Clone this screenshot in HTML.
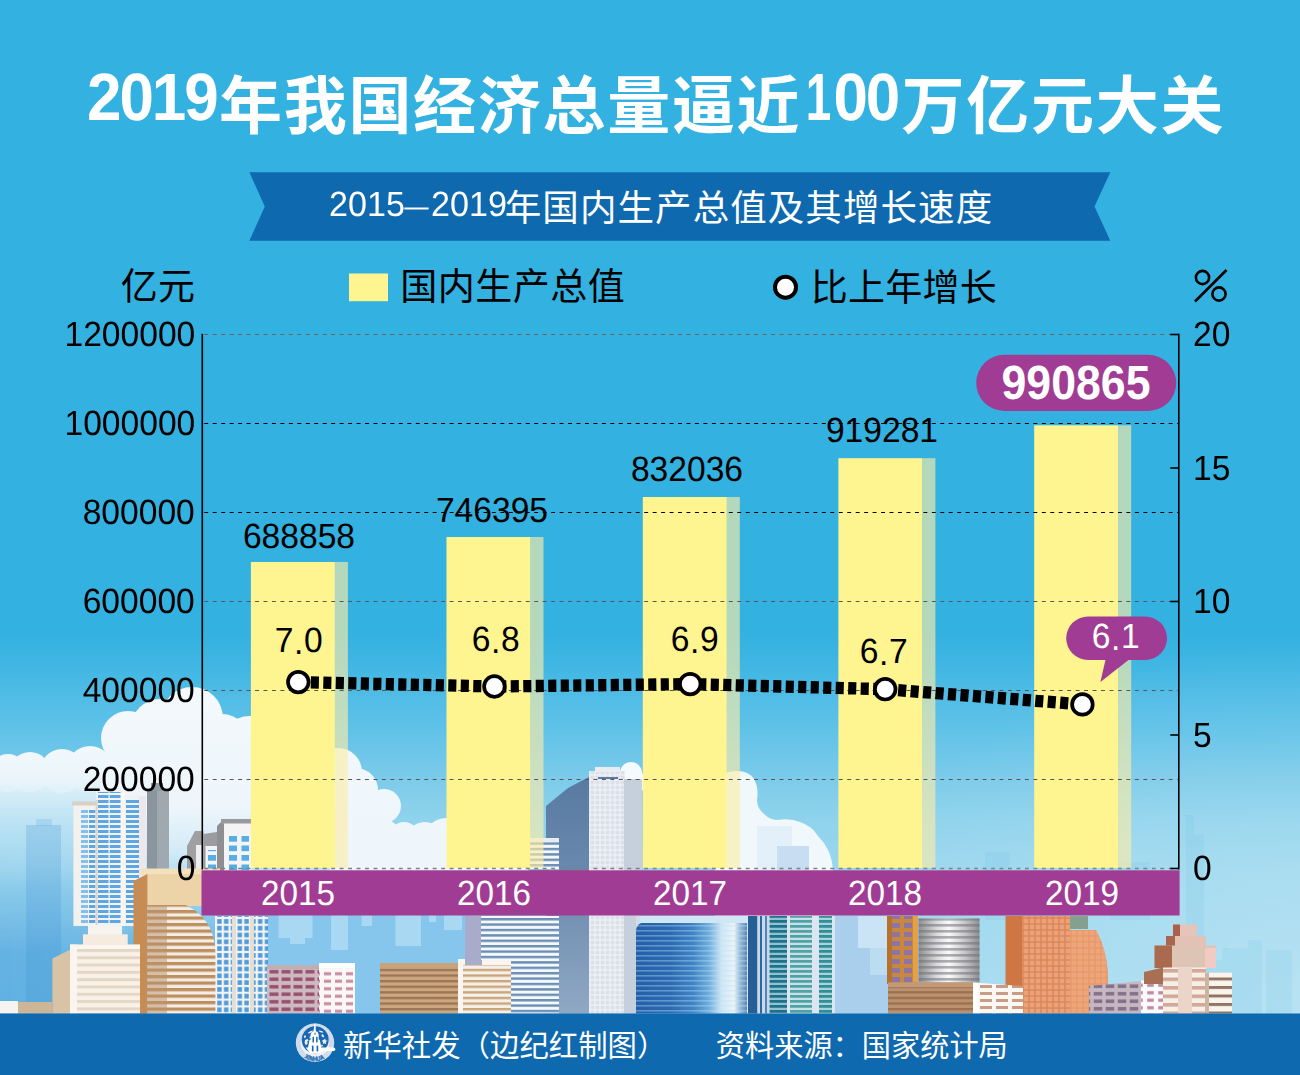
<!DOCTYPE html>
<html lang="zh"><head><meta charset="utf-8"><title>2019年我国经济总量逼近100万亿元大关</title>
<style>
html,body{margin:0;padding:0;background:#33B1E0;}
#page{position:relative;width:1300px;height:1075px;overflow:hidden;background:#33B1E0;font-family:"Liberation Sans",sans-serif;}
#page svg{position:absolute;left:0;top:0;}
.t{position:absolute;line-height:1;white-space:nowrap;font-family:"Liberation Sans",sans-serif;text-rendering:geometricPrecision;font-kerning:none;}
.d{position:relative;top:2px;}
.one{display:inline-block;transform:translateX(-4px) scaleX(0.74);transform-origin:100% 50%;}
</style></head>
<body>
<div id="page">
<svg width="1300" height="1075" viewBox="0 0 1300 1075">
<defs>
<linearGradient id="sky" x1="0" y1="0" x2="0" y2="1"><stop offset="0" stop-color="#33B1E0"/><stop offset="0.588" stop-color="#33B1E0"/><stop offset="0.6186" stop-color="#40B6E3"/><stop offset="0.651" stop-color="#52BDE6"/><stop offset="0.684" stop-color="#63C3E8"/><stop offset="0.7256" stop-color="#7DCBEA"/><stop offset="0.763" stop-color="#8FD3EC"/><stop offset="0.8074" stop-color="#9BD7EE"/><stop offset="0.942" stop-color="#A3DAEF"/><stop offset="1" stop-color="#A3DAEF"/></linearGradient>
<radialGradient id="rightpale" gradientUnits="userSpaceOnUse" cx="1330" cy="1010" r="520" gradientTransform="translate(1330 1010) scale(1 0.72) translate(-1330 -1010)"><stop offset="0" stop-color="#fff" stop-opacity="0.24"/><stop offset="0.5" stop-color="#fff" stop-opacity="0.11"/><stop offset="1" stop-color="#fff" stop-opacity="0"/></radialGradient>
<linearGradient id="leftblue" x1="0" y1="0" x2="1" y2="0"><stop offset="0" stop-color="#459FDC" stop-opacity="0.72"/><stop offset="0.45" stop-color="#4BA6DF" stop-opacity="0.6"/><stop offset="1" stop-color="#4BA6DF" stop-opacity="0"/></linearGradient>
<linearGradient id="mlg" x1="0" y1="0" x2="0" y2="1"><stop offset="0" stop-color="#000"/><stop offset="0.45" stop-color="#000"/><stop offset="0.8" stop-color="#fff"/><stop offset="1" stop-color="#fff"/></linearGradient>
<mask id="mleft" maskUnits="userSpaceOnUse" x="0" y="700" width="700" height="314"><rect x="0" y="700" width="700" height="314" fill="url(#mlg)"/></mask>
<linearGradient id="cloudfadeA" gradientUnits="userSpaceOnUse" x1="0" y1="740" x2="0" y2="1013"><stop offset="0" stop-color="#F3F9FC"/><stop offset="0.12" stop-color="#ECF6FB"/><stop offset="0.22" stop-color="#DDEFF9" stop-opacity="0.85"/><stop offset="0.36" stop-color="#CFE8F7" stop-opacity="0.5"/><stop offset="0.55" stop-color="#CFE8F7" stop-opacity="0.12"/><stop offset="1" stop-color="#CFE8F7" stop-opacity="0"/></linearGradient>
<linearGradient id="cloudfadeB" gradientUnits="userSpaceOnUse" x1="0" y1="690" x2="0" y2="1013"><stop offset="0" stop-color="#F3F9FC"/><stop offset="0.36" stop-color="#EEF6FB"/><stop offset="0.5" stop-color="#E3F1FA" stop-opacity="0.8"/><stop offset="0.62" stop-color="#CFE8F7" stop-opacity="0.35"/><stop offset="0.8" stop-color="#CFE8F7" stop-opacity="0"/><stop offset="1" stop-color="#CFE8F7" stop-opacity="0"/></linearGradient>
<linearGradient id="cloudfadeC" gradientUnits="userSpaceOnUse" x1="0" y1="690" x2="0" y2="1013"><stop offset="0" stop-color="#F3F9FC"/><stop offset="0.55" stop-color="#EEF6FB"/><stop offset="0.62" stop-color="#E3F1FA" stop-opacity="0.8"/><stop offset="0.7" stop-color="#CFE8F7" stop-opacity="0"/><stop offset="1" stop-color="#CFE8F7" stop-opacity="0"/></linearGradient>
<linearGradient id="gdark" x1="0" y1="0" x2="0" y2="1"><stop offset="0" stop-color="#587AA2"/><stop offset="0.45" stop-color="#6C8AAE"/><stop offset="1" stop-color="#8FA8C4"/></linearGradient>
<linearGradient id="gglass" x1="0" y1="0" x2="1" y2="0"><stop offset="0" stop-color="#2560AA"/><stop offset="0.3" stop-color="#2A6AB2"/><stop offset="0.5" stop-color="#3F84C6"/><stop offset="0.64" stop-color="#6FAEDD"/><stop offset="0.75" stop-color="#CFE6F5"/><stop offset="0.86" stop-color="#EAF4FA"/><stop offset="0.91" stop-color="#9DBEDC"/><stop offset="1" stop-color="#3F6EA6"/></linearGradient>
<pattern id="hl" width="8" height="5" patternUnits="userSpaceOnUse"><rect y="0" width="8" height="1.6" fill="#BFE0F4" fill-opacity="0.38"/></pattern>
<linearGradient id="silver" x1="0" y1="0" x2="1" y2="0"><stop offset="0" stop-color="#8D8D92"/><stop offset="0.3" stop-color="#DADADC"/><stop offset="0.5" stop-color="#FAFAFA"/><stop offset="0.75" stop-color="#C9C9CC"/><stop offset="1" stop-color="#8E8E93"/></linearGradient>
<pattern id="hm" width="8" height="6" patternUnits="userSpaceOnUse"><rect y="0" width="8" height="2.6" fill="#6F6F76" fill-opacity="0.55"/></pattern>
<pattern id="h0" width="8" height="5.00" patternUnits="userSpaceOnUse"><rect width="8" height="5.00" fill="#F1F4F7"/><rect width="8" height="3.00" fill="#5FA5E0"/></pattern>
<pattern id="h1" width="8" height="5.00" patternUnits="userSpaceOnUse"><rect width="8" height="5.00" fill="#EEF3F8"/><rect width="8" height="3.00" fill="#86BEEA"/></pattern>
<pattern id="h2" width="8" height="9.50" patternUnits="userSpaceOnUse"><rect width="8" height="9.50" fill="#F4F6F8"/><rect width="8" height="5.70" fill="#58AEE4"/></pattern>
<pattern id="w3" width="6.80" height="6.80" patternUnits="userSpaceOnUse" patternTransform="translate(216.00 918.00)"><rect width="6.80" height="6.80" fill="#F3F3F1"/><rect x="1.20" y="1.10" width="4.40" height="4.60" fill="#4F9ADA"/></pattern>
<pattern id="h4" width="8" height="6.50" patternUnits="userSpaceOnUse"><rect width="8" height="6.50" fill="#F3EDE6"/><rect width="8" height="3.25" fill="#BD8F5E"/></pattern>
<pattern id="h5" width="8" height="7.30" patternUnits="userSpaceOnUse"><rect width="8" height="7.30" fill="#F8F1E8"/><rect width="8" height="2.92" fill="#E4D6C4"/></pattern>
<pattern id="w6" width="12.00" height="7.50" patternUnits="userSpaceOnUse" patternTransform="translate(268.00 968.00)"><rect width="12.00" height="7.50" fill="#CDB9C0"/><rect x="1.50" y="2.00" width="9.00" height="3.50" fill="#9A4F6E"/></pattern>
<pattern id="w7" width="11.00" height="7.50" patternUnits="userSpaceOnUse" patternTransform="translate(322.00 970.00)"><rect width="11.00" height="7.50" fill="#FBF7F7"/><rect x="2.00" y="2.25" width="7.00" height="3.00" fill="#C98AA0"/></pattern>
<pattern id="h8" width="8" height="5.60" patternUnits="userSpaceOnUse"><rect width="8" height="5.60" fill="#CDA77F"/><rect width="8" height="2.35" fill="#9C7654"/></pattern>
<pattern id="h9" width="8" height="5.60" patternUnits="userSpaceOnUse"><rect width="8" height="5.60" fill="#F6EFE6"/><rect width="8" height="2.35" fill="#C9A57C"/></pattern>
<pattern id="w10" width="5.00" height="5.00" patternUnits="userSpaceOnUse" patternTransform="translate(590.00 775.00)"><rect width="5.00" height="5.00" fill="#F2F4F7"/><rect x="0.50" y="0.50" width="4.00" height="4.00" fill="#DCE1E9"/></pattern>
<pattern id="h11" width="8" height="5.40" patternUnits="userSpaceOnUse"><rect width="8" height="5.40" fill="#F5F7FA"/><rect width="8" height="2.43" fill="#6A8FB5"/></pattern>
<pattern id="h12" width="8" height="5.00" patternUnits="userSpaceOnUse"><rect width="8" height="5.00" fill="#FFFFFF"/><rect width="8" height="0.00" fill="#FFFFFF"/></pattern>
<pattern id="h13" width="8" height="5.00" patternUnits="userSpaceOnUse"><rect width="8" height="5.00" fill="#8FC3D2"/><rect width="8" height="2.75" fill="#1F7089"/></pattern>
<pattern id="h14" width="8" height="5.00" patternUnits="userSpaceOnUse"><rect width="8" height="5.00" fill="#C9E1E6"/><rect width="8" height="2.75" fill="#4FA3A6"/></pattern>
<pattern id="h15" width="8" height="5.00" patternUnits="userSpaceOnUse"><rect width="8" height="5.00" fill="#A9D3DA"/><rect width="8" height="2.75" fill="#2F8E96"/></pattern>
<pattern id="w16" width="12.00" height="9.00" patternUnits="userSpaceOnUse" patternTransform="translate(890.00 921.00)"><rect width="12.00" height="9.00" fill="#C8873F"/><rect x="2.00" y="2.00" width="8.00" height="5.00" fill="#8E74A6"/></pattern>
<pattern id="h17" width="8" height="5.60" patternUnits="userSpaceOnUse"><rect width="8" height="5.60" fill="#BC916D"/><rect width="8" height="2.24" fill="#9A7050"/></pattern>
<pattern id="w18" width="6.00" height="6.00" patternUnits="userSpaceOnUse" patternTransform="translate(1023.00 918.00)"><rect width="6.00" height="6.00" fill="#DC8556"/><rect x="0.70" y="0.70" width="4.60" height="4.60" fill="#E9A279"/></pattern>
<pattern id="w19" width="16.00" height="7.00" patternUnits="userSpaceOnUse" patternTransform="translate(978.00 990.00)"><rect width="16.00" height="7.00" fill="#FBF8F4"/><rect x="2.00" y="2.00" width="12.00" height="3.00" fill="#C99C86"/></pattern>
<pattern id="w20" width="12.00" height="7.50" patternUnits="userSpaceOnUse" patternTransform="translate(1092.00 990.00)"><rect width="12.00" height="7.50" fill="#C6B8C3"/><rect x="1.75" y="1.95" width="8.50" height="3.60" fill="#85718A"/></pattern>
<pattern id="w21" width="11.00" height="7.50" patternUnits="userSpaceOnUse" patternTransform="translate(1145.00 989.00)"><rect width="11.00" height="7.50" fill="#FBF9F9"/><rect x="2.25" y="2.15" width="6.50" height="3.20" fill="#B98AA0"/></pattern>
<pattern id="h22" width="8" height="8.50" patternUnits="userSpaceOnUse"><rect width="8" height="8.50" fill="#F7EFE6"/><rect width="8" height="3.57" fill="#D3A898"/></pattern>
<pattern id="h23" width="8" height="8.50" patternUnits="userSpaceOnUse"><rect width="8" height="8.50" fill="#FAF4EC"/><rect width="8" height="2.97" fill="#8E7566"/></pattern>
</defs>
<rect x="0.0" y="0.0" width="1300.0" height="1075.0" fill="url(#sky)"/>
<rect x="0.0" y="600.0" width="1300.0" height="413.5" fill="url(#rightpale)"/>
<rect x="0.0" y="700.0" width="700.0" height="313.5" fill="url(#leftblue)" mask="url(#mleft)"/>
<g fill="url(#cloudfadeA)"><circle cx="8" cy="773" r="19"/><circle cx="30" cy="772" r="20"/><circle cx="62" cy="771" r="22"/><circle cx="90" cy="769" r="23"/><path d="M0,772 L100,762 L125,765 L125,1013 L0,1013 Z"/></g>
<g fill="url(#cloudfadeB)"><circle cx="128" cy="738" r="27"/><circle cx="160" cy="728" r="29"/><circle cx="192" cy="718" r="31"/><circle cx="222" cy="742" r="28"/><circle cx="250" cy="748" r="32"/><path d="M101,760 L130,735 L200,715 L262,742 L282,760 L340,760 L340,1013 L101,1013 Z"/></g>
<g fill="url(#cloudfadeC)"><circle cx="338" cy="772" r="24"/><circle cx="356" cy="790" r="22"/><circle cx="384" cy="806" r="17"/><circle cx="404" cy="836" r="14"/><circle cx="425" cy="842" r="20"/><circle cx="446" cy="840" r="22"/><circle cx="480" cy="842" r="22"/><circle cx="508" cy="846" r="20"/><path d="M330,770 L350,775 L372,805 L400,828 L528,830 L528,1013 L330,1013 Z"/></g>
<path d="M715,780 Q722,772 735,771 Q748,770 754,779 Q759,788 757,800 Q757,808 764,814 Q770,820 778,820 Q790,818 800,822 Q812,826 818,836 Q824,842 828,850 Q832,858 833,870 L833,916 L715,916 Z" fill="#F1F8FC"/>
<rect x="757.0" y="826.0" width="35.0" height="44.0" fill="#E3EFF9"/>
<rect x="777.0" y="846.0" width="32.0" height="24.0" fill="#C9DDF2"/>
<g fill="#F4FAFD"><circle cx="631" cy="773" r="11"/><circle cx="640" cy="782" r="9"/></g>
<rect x="26.0" y="825.0" width="35.0" height="188.5" fill="#3C8CD2" fill-opacity="0.22"/>
<rect x="36.0" y="819.0" width="16.0" height="7.0" fill="#3C8CD2" fill-opacity="0.16"/>
<rect x="262.0" y="915.0" width="208.0" height="98.5" fill="#86C5EC"/>
<rect x="278.6" y="915.0" width="33.9" height="23.0" fill="#A9D9F2"/>
<rect x="290.0" y="938.0" width="15.0" height="6.0" fill="#A9D9F2"/>
<rect x="331.0" y="915.0" width="17.0" height="35.0" fill="#A9D9F2"/>
<rect x="361.5" y="915.0" width="10.5" height="11.0" fill="#A9D9F2"/>
<rect x="395.4" y="915.0" width="25.6" height="31.0" fill="#A9D9F2"/>
<rect x="429.0" y="915.0" width="7.0" height="7.0" fill="#A9D9F2"/>
<rect x="444.0" y="915.0" width="18.0" height="15.0" fill="#A9D9F2"/>
<rect x="1186.0" y="815.0" width="8.0" height="198.5" fill="#6FBFE8" fill-opacity="0.16"/>
<rect x="1194.0" y="835.0" width="10.0" height="178.5" fill="#6FBFE8" fill-opacity="0.16"/>
<rect x="1222.0" y="948.0" width="26.0" height="65.5" fill="#6FBFE8" fill-opacity="0.16"/>
<rect x="1248.0" y="940.0" width="14.0" height="73.5" fill="#6FBFE8" fill-opacity="0.16"/>
<rect x="1266.0" y="950.0" width="26.0" height="63.5" fill="#6FBFE8" fill-opacity="0.16"/>
<rect x="1110.0" y="862.0" width="40.0" height="58.0" fill="#6FBFE8" fill-opacity="0.16"/>
<rect x="985.0" y="852.0" width="25.0" height="68.0" fill="#6FBFE8" fill-opacity="0.16"/>
<rect x="1204.0" y="960.0" width="18.0" height="53.5" fill="#6FBFE8" fill-opacity="0.16"/>
<rect x="147.0" y="790.0" width="22.0" height="90.0" fill="#A1A9B0"/>
<rect x="147.0" y="790.0" width="10.0" height="90.0" fill="#8B959D"/>
<rect x="151.0" y="783.0" width="12.0" height="8.0" fill="#949DA5"/>
<rect x="73.4" y="804.0" width="22.6" height="122.0" fill="#F3F1EE"/>
<rect x="81.0" y="808.0" width="7.0" height="116.0" fill="url(#h1)"/>
<rect x="89.0" y="808.0" width="6.4" height="116.0" fill="url(#h0)"/>
<rect x="72.0" y="801.5" width="25.0" height="4.0" fill="#D6D0C6"/>
<rect x="96.0" y="788.0" width="25.5" height="138.0" fill="#EEF2F6"/>
<rect x="98.0" y="792.0" width="10.5" height="132.0" fill="url(#h0)"/>
<rect x="109.8" y="792.0" width="10.7" height="132.0" fill="url(#h0)"/>
<rect x="95.6" y="800.0" width="2.0" height="126.0" fill="#DDD2C6"/>
<rect x="121.0" y="792.0" width="4.5" height="134.0" fill="#F8F6F2"/>
<rect x="125.0" y="795.0" width="14.5" height="131.0" fill="#EEF2F6"/>
<rect x="126.0" y="799.0" width="13.0" height="125.0" fill="url(#h0)"/>
<rect x="139.0" y="796.0" width="7.0" height="89.0" fill="#ECE8EE"/>
<polygon points="187.0,880.0 187.0,846.0 195.0,831.0 203.5,831.0 203.5,880.0" fill="#A0A0A3"/>
<rect x="196.0" y="845.0" width="6.0" height="35.0" fill="#EDEDEE"/>
<polygon points="203.5,834.0 217.0,832.0 217.0,880.0 203.5,880.0" fill="#9C9C9F"/>
<rect x="205.5" y="846.0" width="11.5" height="34.0" fill="#F1F3F5"/>
<rect x="208.0" y="850.0" width="8.0" height="30.0" fill="url(#h2)"/>
<polygon points="217.0,826.0 224.0,819.0 224.0,880.0 217.0,880.0" fill="#8F8F93"/>
<rect x="221.0" y="819.0" width="30.5" height="5.0" fill="#9A9A9D"/>
<rect x="224.0" y="823.5" width="27.5" height="56.5" fill="#F4F4F6"/>
<rect x="229.0" y="834.0" width="8.0" height="46.0" fill="url(#h2)"/>
<rect x="241.5" y="834.0" width="7.5" height="46.0" fill="url(#h2)"/>
<rect x="215.0" y="916.0" width="53.0" height="97.5" fill="url(#w3)"/>
<rect x="232.0" y="916.0" width="4.0" height="97.5" fill="#E4DED4"/>
<rect x="250.0" y="916.0" width="4.0" height="97.5" fill="#E4DED4"/>
<rect x="140.0" y="868.5" width="80.0" height="6.5" fill="#F3E0BF"/>
<rect x="146.0" y="874.0" width="72.0" height="32.0" fill="#EDD3A8"/>
<polygon points="133.5,881.0 147.4,874.0 147.4,1013.5 133.5,1013.5" fill="#C68C54"/>
<path d="M147.4,905 L186,905 Q204,914 211,930 Q215.4,942 215.4,955 L215.4,1013.5 L147.4,1013.5 Z" fill="url(#h4)"/>
<path d="M147.4,905 L167,905 L167,1013.5 L147.4,1013.5 Z" fill="#B9916A" fill-opacity="0.5"/>
<polygon points="52.4,958.5 70.0,949.7 70.0,1013.5 52.4,1013.5" fill="#D8C3A6"/>
<rect x="88.0" y="925.0" width="34.0" height="10.0" fill="#F7F3EE"/>
<rect x="83.0" y="934.3" width="44.7" height="10.7" fill="#F6EBDF"/>
<rect x="70.0" y="944.6" width="70.0" height="68.9" fill="url(#h5)"/>
<rect x="70.0" y="944.6" width="70.0" height="4.4" fill="#FBF6EF"/>
<rect x="70.0" y="944.6" width="7.0" height="68.9" fill="#FAF5EE"/>
<rect x="0.0" y="1001.0" width="18.0" height="12.5" fill="#F4F4F2"/>
<rect x="18.0" y="1002.0" width="34.4" height="11.5" fill="#CDB598"/>
<rect x="267.0" y="965.0" width="53.0" height="48.5" fill="url(#w6)"/>
<rect x="267.0" y="965.0" width="53.0" height="4.0" fill="#BFAFB5"/>
<rect x="319.0" y="963.0" width="36.0" height="50.5" fill="url(#w7)"/>
<rect x="319.0" y="963.0" width="36.0" height="5.0" fill="#FFFFFF"/>
<rect x="380.0" y="963.0" width="78.0" height="50.5" fill="url(#h8)"/>
<rect x="380.0" y="963.0" width="78.0" height="5.0" fill="#C9A27A"/>
<rect x="458.0" y="959.0" width="53.0" height="54.5" fill="url(#h9)"/>
<rect x="458.0" y="959.0" width="53.0" height="6.0" fill="#FAF5EE"/>
<rect x="458.0" y="959.0" width="5.0" height="54.5" fill="#FAF5EE"/>
<polygon points="546.0,806.0 568.0,788.0 589.0,777.0 589.0,1013.5 546.0,1013.5" fill="url(#gdark)"/>
<rect x="589.0" y="771.0" width="36.0" height="242.5" fill="url(#w10)"/>
<rect x="595.0" y="767.0" width="25.0" height="5.0" fill="#E9ECF0"/>
<rect x="598.0" y="777.0" width="20.0" height="2.0" fill="#5C7A9E"/>
<rect x="624.0" y="779.0" width="18.0" height="234.5" fill="#C6CFDC"/>
<rect x="636.0" y="916.0" width="6.0" height="97.5" fill="#D5DCE6"/>
<rect x="465.0" y="916.0" width="17.0" height="49.0" fill="#A9ABCB"/>
<rect x="481.0" y="916.0" width="78.0" height="44.0" fill="url(#h11)"/>
<rect x="511.0" y="958.0" width="48.0" height="55.5" fill="url(#h11)"/>
<rect x="530.0" y="841.0" width="29.0" height="39.0" fill="url(#h11)"/>
<rect x="530.0" y="838.0" width="29.0" height="4.0" fill="#E8ECF2"/>
<path d="M636,1013.5 L636,932 Q636,922 646,922 L750,922 L750,1013.5 Z" fill="url(#gglass)"/>
<path d="M636,1013.5 L636,932 Q636,922 646,922 L750,922 L750,1013.5 Z" fill="url(#hl)" />
<rect x="640.0" y="916.0" width="110.0" height="7.0" fill="#CFE6F5"/>
<rect x="747.0" y="916.0" width="89.0" height="97.5" fill="#DCE6F0"/>
<rect x="748.0" y="916.0" width="9.5" height="97.5" fill="#265F96"/>
<rect x="757.5" y="916.0" width="12.0" height="97.5" fill="#C9D9EA"/>
<rect x="760.0" y="916.0" width="2.0" height="97.5" fill="#2C6A9C"/>
<rect x="765.0" y="916.0" width="2.0" height="97.5" fill="#4F86B5"/>
<rect x="769.5" y="916.0" width="17.5" height="97.5" fill="url(#h13)"/>
<rect x="790.0" y="916.0" width="22.0" height="97.5" fill="url(#h14)"/>
<rect x="819.0" y="916.0" width="13.0" height="97.5" fill="url(#h15)"/>
<rect x="835.0" y="916.0" width="53.0" height="97.5" fill="#A9CFEC"/>
<rect x="858.0" y="916.0" width="30.0" height="32.0" fill="#CBE4F5"/>
<rect x="870.0" y="948.0" width="18.0" height="27.0" fill="#BCDCF2"/>
<rect x="887.0" y="916.0" width="31.0" height="68.0" fill="url(#w16)"/>
<rect x="887.0" y="916.0" width="5.0" height="68.0" fill="#B5712E"/>
<rect x="913.0" y="916.0" width="5.0" height="68.0" fill="#E3A048"/>
<rect x="918.5" y="918.5" width="61" height="64" fill="url(#silver)"/>
<rect x="918.5" y="918.5" width="61" height="64" fill="url(#hm)"/>
<rect x="888.0" y="982.5" width="85.0" height="31.0" fill="url(#h17)"/>
<rect x="888.0" y="982.5" width="85.0" height="4.5" fill="#C29A78"/>
<rect x="1005.5" y="916.0" width="17.5" height="97.5" fill="#CF7644"/>
<rect x="1070.0" y="916.0" width="18.0" height="13.0" fill="#86A08F"/>
<path d="M1022,916 L1070,916 L1070,930 L1096,930 Q1107,950 1108,975 L1108,1013.5 L1022,1013.5 Z" fill="url(#w18)"/>
<path d="M1070,930 L1096,930 Q1107,950 1108,975 L1108,1013.5 L1070,1013.5 Z" fill="#F0A77C" fill-opacity="0.55"/>
<polygon points="973.0,982.5 1023.0,986.0 1023.0,1013.5 973.0,1013.5" fill="url(#w19)"/>
<rect x="973.0" y="983.0" width="5.0" height="30.5" fill="#FFFFFF"/>
<polygon points="1089.0,986.0 1141.0,981.0 1141.0,1013.5 1089.0,1013.5" fill="url(#w20)"/>
<rect x="1141.0" y="980.5" width="24.0" height="33.0" fill="url(#w21)"/>
<rect x="1173.0" y="924.5" width="24.0" height="21.5" fill="#E6C4B9"/>
<rect x="1173.0" y="924.5" width="7.0" height="21.5" fill="#A8604A"/>
<rect x="1166.0" y="936.0" width="40.0" height="10.0" fill="#E3C2B6"/>
<rect x="1166.0" y="936.0" width="9.0" height="10.0" fill="#A9654D"/>
<rect x="1154.5" y="945.5" width="61.5" height="22.5" fill="#DEC4B5"/>
<rect x="1154.5" y="945.5" width="17.5" height="22.5" fill="#A96A50"/>
<rect x="1205.0" y="948.0" width="11.0" height="20.0" fill="#F0CBC3"/>
<polygon points="1144.0,972.0 1163.0,967.5 1163.0,984.0 1144.0,984.0" fill="#A96F52"/>
<rect x="1163.0" y="967.5" width="43.0" height="46.0" fill="url(#h22)"/>
<rect x="1178.0" y="967.5" width="14.0" height="46.0" fill="#EAD5C8"/>
<rect x="1205.0" y="972.5" width="27.0" height="41.0" fill="url(#h23)"/>
<rect x="1205.0" y="972.5" width="4.0" height="41.0" fill="#CDB5A5"/>
<rect x="0.0" y="1013.5" width="1300.0" height="61.5" fill="#0F69AE"/>
</svg>
<svg width="1300" height="1075" viewBox="0 0 1300 1075">
<polygon points="249.4,172.3 1110.3,172.3 1094.5,206.5 1110.3,240.8 249.4,240.8 264.8,206.5" fill="#0F69AE"/>
<rect x="349" y="273.5" width="39" height="27.7" fill="#FFF590"/>
<circle cx="785.5" cy="287.2" r="10.5" fill="#fff" stroke="#000" stroke-width="4"/>
<g fill="none" stroke="#000" stroke-width="2.6"><circle cx="1202.5" cy="277.5" r="6.6"/><circle cx="1219" cy="294" r="6.6"/><line x1="1195" y1="301.5" x2="1226.5" y2="270"/></g>
<rect x="250.9" y="562.0" width="84" height="306.0" fill="#FFF590"/>
<rect x="334.9" y="562.0" width="13" height="306.0" fill="#FBECA9" fill-opacity="0.65"/>
<rect x="446.5" y="537.0" width="84" height="331.0" fill="#FFF590"/>
<rect x="530.5" y="537.0" width="13" height="331.0" fill="#FBECA9" fill-opacity="0.65"/>
<rect x="642.8" y="497.0" width="84" height="371.0" fill="#FFF590"/>
<rect x="726.8" y="497.0" width="13" height="371.0" fill="#FBECA9" fill-opacity="0.65"/>
<rect x="838.4" y="458.2" width="84" height="409.8" fill="#FFF590"/>
<rect x="922.4" y="458.2" width="13" height="409.8" fill="#FBECA9" fill-opacity="0.65"/>
<rect x="1034.2" y="425.3" width="84" height="442.7" fill="#FFF590"/>
<rect x="1118.2" y="425.3" width="13" height="442.7" fill="#FBECA9" fill-opacity="0.65"/>
<line x1="204.3" y1="334.5" x2="1178.8" y2="334.5" stroke="#6b6257" stroke-width="1" stroke-dasharray="3.9 4.56"/>
<line x1="204.3" y1="423.5" x2="1178.8" y2="423.5" stroke="#000" stroke-width="1" stroke-dasharray="3.9 4.56"/>
<line x1="204.3" y1="512.5" x2="1178.8" y2="512.5" stroke="#000" stroke-width="1" stroke-dasharray="3.9 4.56"/>
<line x1="204.3" y1="601.5" x2="1178.8" y2="601.5" stroke="#5a5550" stroke-width="1" stroke-dasharray="3.9 4.56"/>
<line x1="204.3" y1="690.5" x2="1178.8" y2="690.5" stroke="#5a5550" stroke-width="1" stroke-dasharray="3.9 4.56"/>
<line x1="204.3" y1="779.5" x2="1178.8" y2="779.5" stroke="#555" stroke-width="1" stroke-dasharray="3.9 4.56"/>
<line x1="204.3" y1="868.5" x2="1178.8" y2="868.5" stroke="#808080" stroke-width="1.7" stroke-dasharray="3.9 4.56"/>
<line x1="202.3" y1="333.7" x2="202.3" y2="869.5" stroke="#000" stroke-width="1.6"/>
<line x1="1178.8" y1="333.7" x2="1178.8" y2="869.5" stroke="#000" stroke-width="1.6"/>
<line x1="1170.3" y1="868.5" x2="1178.8" y2="868.5" stroke="#000" stroke-width="1.6"/>
<line x1="1170.3" y1="735.0" x2="1178.8" y2="735.0" stroke="#000" stroke-width="1.6"/>
<line x1="1170.3" y1="601.5" x2="1178.8" y2="601.5" stroke="#000" stroke-width="1.6"/>
<line x1="1170.3" y1="468.0" x2="1178.8" y2="468.0" stroke="#000" stroke-width="1.6"/>
<line x1="1170.3" y1="334.5" x2="1178.8" y2="334.5" stroke="#000" stroke-width="1.6"/>
<rect x="201.5" y="870.3" width="978.1" height="45.2" fill="#A03C93"/>
<polyline points="298.3,682.1 494.4,686.5 690.2,684.1 885.2,689.2 1082.4,704.4" fill="none" stroke="#000" stroke-width="12.3" stroke-dasharray="8.1 4.4"/>
<circle cx="298.3" cy="682.1" r="10.3" fill="#fff" stroke="#000" stroke-width="3.7"/>
<circle cx="494.4" cy="686.5" r="10.3" fill="#fff" stroke="#000" stroke-width="3.7"/>
<circle cx="690.2" cy="684.1" r="10.3" fill="#fff" stroke="#000" stroke-width="3.7"/>
<circle cx="885.2" cy="689.2" r="10.3" fill="#fff" stroke="#000" stroke-width="3.7"/>
<circle cx="1082.4" cy="704.4" r="10.3" fill="#fff" stroke="#000" stroke-width="3.7"/>
<rect x="976.2" y="354.8" width="200" height="56.2" rx="28.1" fill="#A03C93"/>
<rect x="1066.2" y="616.5" width="100.8" height="43.4" rx="21.7" fill="#A03C93"/>
<polygon points="1105.8,658.5 1130.4,658.5 1100.4,682" fill="#A03C93"/>
<text fill="#fff" font-family="'Liberation Sans','Noto Sans CJK SC',sans-serif" font-weight="bold" font-size="63" y="127.5" x="219 283.7 348.4 413.1 477.8 542.5 607.2 671.9 736.6">年我国经济总量逼近</text>
<text fill="#fff" font-family="'Liberation Sans','Noto Sans CJK SC',sans-serif" font-weight="bold" font-size="63" y="127.5" x="901.6 966.3 1031 1095.7 1160.4">万亿元大关</text>
<text fill="#fff" font-family="'Liberation Sans','Noto Sans CJK SC',sans-serif" font-size="36.5" y="221" x="504.8 542.37 579.94 617.51 655.08 692.65 730.22 767.79 805.36 842.93 880.5 918.07 955.64">年国内生产总值及其增长速度</text>
<text fill="#000" font-family="'Liberation Sans','Noto Sans CJK SC',sans-serif" font-size="37" y="300.2" x="120.8 157.9">亿元</text>
<text fill="#000" font-family="'Liberation Sans','Noto Sans CJK SC',sans-serif" font-size="37" y="300.3" x="400.2 437.7 475.2 512.7 550.2 587.7">国内生产总值</text>
<text fill="#000" font-family="'Liberation Sans','Noto Sans CJK SC',sans-serif" font-size="37" y="300.5" x="810.7 847.95 885.2 922.45 959.7">比上年增长</text>
<text fill="#fff" font-family="'Liberation Sans','Noto Sans CJK SC',sans-serif" font-size="29.4" y="1055.7" x="343 372.4 401.8 431.2 460.6 490 519.4 548.8 578.2 607.6 637">新华社发（边纪红制图）</text>
<text fill="#fff" font-family="'Liberation Sans','Noto Sans CJK SC',sans-serif" font-size="29.2" y="1055.7" x="715.8 745 774.2 803.4 832.6 861.8 891 920.2 949.4 978.6">资料来源：国家统计局</text>
<line x1="404.3" y1="208.5" x2="428.6" y2="208.5" stroke="#fff" stroke-width="2"/>
<g id="logo" role="img" aria-label="XINHUA">
<circle cx="315" cy="1042.8" r="19.2" fill="#EEF0F8"/>
<g fill="none" stroke="#2C72B6" stroke-width="0.5" stroke-opacity="0.42">
<circle cx="315" cy="1042.8" r="18.3"/><circle cx="315" cy="1042.8" r="17.2"/><circle cx="315" cy="1042.8" r="16.1"/><circle cx="315" cy="1042.8" r="15"/>
</g>
<circle cx="315.2" cy="1039.8" r="13.5" fill="#1766AF"/>
<g fill="#EEF0F8">
<path d="M303.6,1036.4 l1.6,-1.4 .8,1.6 -1,1.8z M305,1040 l2.6,-1 1,1.4 -1.4,1.2 .6,2 -2,1.6 -1.2,-2.4z M307.6,1033 l3,-2 2.4,-.4 -1.6,2 -2.4,1z M309.6,1036.4 l2,-.6 -.4,2.2 -1.6,.6z"/>
<path d="M318.6,1030.4 l3.4,.6 1.6,1.4 -2.6,.2 -2,-1z M321.4,1034.6 l1.4,-.4 1.4,2 -.8,1.4 -1.6,-1.2z M323.4,1040 l1.8,-1.4 .4,1.8 1.8,.2 -1.6,1.6 .4,2 -1.8,-1 -1.8,1 .6,-2 -1.4,-1.4z M321.6,1044.6 l1.4,.6 -.6,1.6 -1.4,-.4z"/>
</g>
<path d="M314.6,1023.4 h.9 l.4,8 h1.3 l1.5,2.8 v5.6 h1.1 l1.5,7.8 h12.4 a1.7,1.7 0 0 1 0,3.4 h-9.6 l-4,2.2 h-9.8 l-4.6,-5.6 h2.3 l1.5,-7.8 h1.1 v-5.6 l1.5,-2.8 h1.3z" fill="#fff"/>
<g fill="#1766AF"><rect x="312.5" y="1036.8" width="1.5" height="5.6"/><rect x="316.1" y="1036.8" width="1.5" height="5.6"/><rect x="311.9" y="1045.6" width="1.6" height="5.8"/><rect x="316.6" y="1045.6" width="1.6" height="5.8"/><rect x="314.55" y="1032.6" width="1" height="2.2"/></g>
<path id="lgarc" d="M304.4,1057.8 A18.4,18.4 0 0 0 325.6,1057.8" fill="none"/>
<text font-family="Liberation Sans, sans-serif" font-weight="bold" font-size="6.6" fill="#1766AF" stroke="#1766AF" stroke-width="0.25"><textPath href="#lgarc" textLength="21.2" lengthAdjust="spacingAndGlyphs">XINHUA</textPath></text>
</g>

</svg>
<div class="t" style="top:63.88px;font-size:67.00px;color:#fff;font-weight:bold;letter-spacing:-2.20px;left:87.40px;transform-origin:0 50%;transform:scaleX(0.9250);">2019</div>
<div class="t" style="top:63.78px;font-size:67.00px;color:#fff;font-weight:bold;letter-spacing:-2.20px;left:801.00px;transform-origin:0 50%;transform:scaleX(0.9250);"><span class="one">1</span>00</div>
<div class="t" style="top:186.87px;font-size:35.00px;color:#fff;left:329.40px;transform-origin:0 50%;transform:scaleX(0.9750);">2015</div>
<div class="t" style="top:186.87px;font-size:35.00px;color:#fff;left:430.60px;transform-origin:0 50%;transform:scaleX(0.9750);">2019</div>
<div class="t" style="top:317.27px;font-size:35.00px;color:#000;right:1104.80px;transform-origin:100% 50%;transform:scaleX(0.9600);">1200000</div>
<div class="t" style="top:406.27px;font-size:35.00px;color:#000;right:1104.80px;transform-origin:100% 50%;transform:scaleX(0.9600);">1000000</div>
<div class="t" style="top:495.27px;font-size:35.00px;color:#000;right:1104.80px;transform-origin:100% 50%;transform:scaleX(0.9600);">800000</div>
<div class="t" style="top:584.27px;font-size:35.00px;color:#000;right:1104.80px;transform-origin:100% 50%;transform:scaleX(0.9600);">600000</div>
<div class="t" style="top:673.27px;font-size:35.00px;color:#000;right:1104.80px;transform-origin:100% 50%;transform:scaleX(0.9600);">400000</div>
<div class="t" style="top:762.27px;font-size:35.00px;color:#000;right:1104.80px;transform-origin:100% 50%;transform:scaleX(0.9600);">200000</div>
<div class="t" style="top:851.27px;font-size:35.00px;color:#000;right:1104.80px;transform-origin:100% 50%;transform:scaleX(0.9600);">0</div>
<div class="t" style="top:851.27px;font-size:35.00px;color:#000;left:1192.50px;transform-origin:0 50%;transform:scaleX(0.9600);">0</div>
<div class="t" style="top:717.77px;font-size:35.00px;color:#000;left:1192.50px;transform-origin:0 50%;transform:scaleX(0.9600);">5</div>
<div class="t" style="top:584.27px;font-size:35.00px;color:#000;left:1192.50px;transform-origin:0 50%;transform:scaleX(0.9600);">10</div>
<div class="t" style="top:450.77px;font-size:35.00px;color:#000;left:1192.50px;transform-origin:0 50%;transform:scaleX(0.9600);">15</div>
<div class="t" style="top:317.27px;font-size:35.00px;color:#000;left:1192.50px;transform-origin:0 50%;transform:scaleX(0.9600);">20</div>
<div class="t" style="top:518.67px;font-size:35.00px;color:#000;left:299.25px;transform:translateX(-50%) scaleX(0.9600);">688858</div>
<div class="t" style="top:622.77px;font-size:35.00px;color:#000;letter-spacing:0.60px;left:298.80px;transform:translateX(-50%) scaleX(0.9600);">7<span class="d">.</span>0</div>
<div class="t" style="top:875.67px;font-size:35.00px;color:#fff;left:298.30px;transform:translateX(-50%) scaleX(0.9500);">2015</div>
<div class="t" style="top:493.17px;font-size:35.00px;color:#000;left:492.25px;transform:translateX(-50%) scaleX(0.9600);">746395</div>
<div class="t" style="top:622.37px;font-size:35.00px;color:#000;letter-spacing:0.60px;left:496.30px;transform:translateX(-50%) scaleX(0.9600);">6<span class="d">.</span>8</div>
<div class="t" style="top:875.67px;font-size:35.00px;color:#fff;left:494.40px;transform:translateX(-50%) scaleX(0.9500);">2016</div>
<div class="t" style="top:451.67px;font-size:35.00px;color:#000;left:686.80px;transform:translateX(-50%) scaleX(0.9600);">832036</div>
<div class="t" style="top:622.37px;font-size:35.00px;color:#000;letter-spacing:0.60px;left:694.50px;transform:translateX(-50%) scaleX(0.9600);">6<span class="d">.</span>9</div>
<div class="t" style="top:875.67px;font-size:35.00px;color:#fff;left:690.20px;transform:translateX(-50%) scaleX(0.9500);">2017</div>
<div class="t" style="top:412.77px;font-size:35.00px;color:#000;left:882.30px;transform:translateX(-50%) scaleX(0.9600);">919281</div>
<div class="t" style="top:634.37px;font-size:35.00px;color:#000;letter-spacing:0.60px;left:884.20px;transform:translateX(-50%) scaleX(0.9600);">6<span class="d">.</span>7</div>
<div class="t" style="top:875.67px;font-size:35.00px;color:#fff;left:885.20px;transform:translateX(-50%) scaleX(0.9500);">2018</div>
<div class="t" style="top:875.67px;font-size:35.00px;color:#fff;left:1082.40px;transform:translateX(-50%) scaleX(0.9500);">2019</div>
<div class="t" style="top:360.17px;font-size:48.00px;color:#fff;font-weight:bold;left:1076.30px;transform:translateX(-50%) scaleX(0.9300);">990865</div>
<div class="t" style="top:619.37px;font-size:35.00px;color:#fff;letter-spacing:0.60px;left:1116.00px;transform:translateX(-50%) scaleX(0.9600);">6<span class="d">.</span>1</div>
</div>
</body></html>
